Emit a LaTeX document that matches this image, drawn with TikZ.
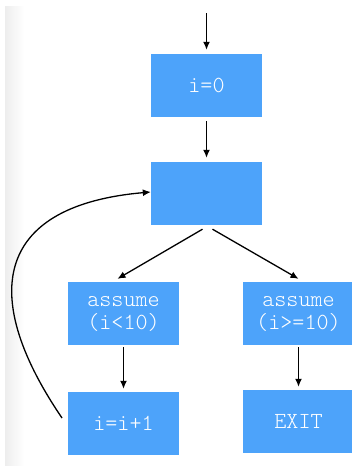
\documentclass[tikz,border=0pt]{standalone}
\usepackage{fontspec}
\setmonofont{Latin Modern Mono Light}
\usetikzlibrary{arrows.meta}
\definecolor{boxblue}{RGB}{77,163,250}
\begin{document}
\begin{tikzpicture}[
    x=1pt, y=-1pt,
    block/.style={rectangle, fill=boxblue, text=white, minimum width=111pt, minimum height=63pt,
        align=center, inner sep=0pt, font=\ttfamily\fontsize{23}{23}\selectfont},
    flow/.style={-{Latex[length=8pt,width=7pt]}, line width=1.3pt}
]
    \useasboundingbox (0,0) rectangle (351,466);
    % faint strip on the left
    \shade[left color=black!7, right color=white] (5,6) rectangle (24,466);

    % Blocks
    \node[block] (init) at (206.5,85.5) {i=0};
    \node[block] (head) at (206.5,193.5) {};
    \node[block] (less) at (123.5,313.5) {assume\\(i<10)};
    \node[block] (geq) at (298.5,313.5) {assume\\(i>=10)};
    \node[block] (inc) at (123.5,423.5) {i=i+1};
    \node[block] (exit) at (298.5,421.5) {EXIT};
    \coordinate (entry) at (206.5,13);
    \coordinate (back) at (62,418);

    % Connections
    \draw[flow] (entry) -- ([yshift=4pt]init.north);
    \draw[flow] ([yshift=-4pt]init.south) -- ([yshift=4pt]head.north);
    \draw[flow] ([xshift=-4pt,yshift=-4pt]head.south) -- ([xshift=-6pt,yshift=3pt]less.north);
    \draw[flow] ([xshift=6pt,yshift=-4pt]head.south) -- ([yshift=3pt]geq.north);
    \draw[flow] ([yshift=-2pt]less.south) -- ([yshift=3pt]inc.north);
    \draw[flow] ([yshift=-2pt]geq.south) -- ([yshift=3pt]exit.north);
    \draw[flow] (back) .. controls (-25,290) and (0,205) .. ([yshift=1.5pt]head.west);
\end{tikzpicture}
\end{document}
